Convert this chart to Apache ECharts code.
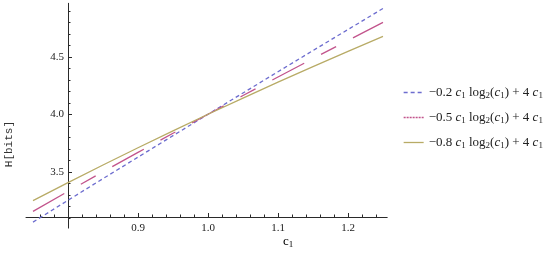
<!DOCTYPE html>
<html><head><meta charset="utf-8">
<script src="https://cdn.jsdelivr.net/npm/echarts@6/dist/echarts.min.js"></script>
<style>html,body{margin:0;padding:0;background:#fff}#c{width:550px;height:253px}</style>
</head><body><div id="c"></div>
<script>
// ---- data ----
const cValues = [0.75, 0.80, 0.85, 0.90, 0.95, 1.00, 1.05, 1.10, 1.15, 1.20, 1.25];
const coefLabels = ['\u22120.2', '\u22120.5', '\u22120.8'];
const hCoef02 = [3.062, 3.252, 3.440, 3.627, 3.814, 4.000, 4.185, 4.370, 4.554, 4.737, 4.920];
const hCoef05 = [3.156, 3.329, 3.500, 3.668, 3.835, 4.000, 4.163, 4.324, 4.484, 4.642, 4.799];
const hCoef08 = [3.249, 3.406, 3.559, 3.709, 3.856, 4.000, 4.141, 4.279, 4.415, 4.547, 4.678];
const xMajorTicks = [0.9, 1.0, 1.1, 1.2];
const xMinorTicks = [0.76, 0.78, 0.82, 0.84, 0.86, 0.88, 0.92, 0.94, 0.96, 0.98, 1.02, 1.04, 1.06, 1.08, 1.12, 1.14, 1.16, 1.18, 1.22, 1.24];
const yMajorTicks = [3.5, 4.0, 4.5];
const yMinorTicks = [3.1, 3.2, 3.3, 3.4, 3.6, 3.7, 3.8, 3.9, 4.1, 4.2, 4.3, 4.4, 4.6, 4.7, 4.8, 4.9];
const yAxisTitle = 'H[bits]';

// ---- layout ----
const X_MIN = 0.74, X_MAX = 1.256, Y_MIN = 3.01, Y_MAX = 4.965;
const PLOT_LEFT = 26, PLOT_W = 361.2, PLOT_TOP = 3.3, PLOT_H = 224.8;
const X_AXIS_Y = 217, Y_AXIS_X = 68;
const AX = '#2a2a2a';
const SERIF = 'Liberation Serif';

const colors = ['#6d6dcf', '#c2548c', '#b8ab66'];
const dashes = [[4, 3], [36, 19, 17, 19], 'solid'];
const dataSets = [hCoef02, hCoef05, hCoef08];
const names = coefLabels.map(k => k + ' c1 log2(c1) + 4 c1');

const richStyles = {
  n: {fontFamily: SERIF, fontSize: 13, color: '#222', lineHeight: 16},
  i: {fontFamily: SERIF, fontSize: 13, fontStyle: 'italic', color: '#222', lineHeight: 16},
  s: {fontFamily: SERIF, fontSize: 9, color: '#222', lineHeight: 16, verticalAlign: 'bottom'}
};

const chart = echarts.init(document.getElementById('c'), null, {renderer: 'canvas'});
chart.setOption({
  animation: false,
  backgroundColor: '#fff',
  grid: [
    {left: PLOT_LEFT, top: PLOT_TOP, width: PLOT_W, height: PLOT_H},
    {left: PLOT_LEFT, top: PLOT_TOP, width: PLOT_W, height: X_AXIS_Y - PLOT_TOP},
    {left: Y_AXIS_X, top: PLOT_TOP, width: 100, height: PLOT_H}
  ],
  xAxis: [
    {gridIndex: 0, type: 'value', min: X_MIN, max: X_MAX, show: false},
    {gridIndex: 1, type: 'value', min: X_MIN, max: X_MAX, position: 'bottom',
      axisLine: {onZero: false, lineStyle: {color: AX, width: 1}},
      axisTick: {inside: true, length: 4, lineStyle: {color: AX}, customValues: xMajorTicks},
      axisLabel: {customValues: xMajorTicks, formatter: v => v.toFixed(1), margin: 6,
        fontFamily: SERIF, fontSize: 11, color: '#222'},
      splitLine: {show: false}},
    {gridIndex: 1, type: 'value', min: X_MIN, max: X_MAX, position: 'bottom',
      axisLine: {show: false},
      axisTick: {inside: true, length: 2.5, lineStyle: {color: AX}, customValues: xMinorTicks},
      axisLabel: {show: false}, splitLine: {show: false}},
    {gridIndex: 2, type: 'value', min: 0, max: 1, show: false}
  ],
  yAxis: [
    {gridIndex: 0, type: 'value', min: Y_MIN, max: Y_MAX, show: false},
    {gridIndex: 1, type: 'value', min: 0, max: 1, show: false},
    {gridIndex: 2, type: 'value', min: Y_MIN, max: Y_MAX, position: 'left',
      axisLine: {show: true, onZero: false, lineStyle: {color: AX, width: 1}},
      axisTick: {show: true, inside: true, length: 4, lineStyle: {color: AX}, customValues: yMajorTicks},
      axisLabel: {customValues: yMajorTicks, formatter: v => v.toFixed(1), margin: 4,
        fontFamily: SERIF, fontSize: 11, color: '#222'},
      splitLine: {show: false}},
    {gridIndex: 2, type: 'value', min: Y_MIN, max: Y_MAX, position: 'left',
      axisLine: {show: false},
      axisTick: {show: true, inside: true, length: 2.5, lineStyle: {color: AX}, customValues: yMinorTicks},
      axisLabel: {show: false}, splitLine: {show: false}}
  ],
  legend: {
    orient: 'vertical', left: 403, top: 86, padding: 0, itemWidth: 20, itemHeight: 14, itemGap: 10.5,
    itemStyle: {opacity: 0},
    data: names.map((n, i) => ({name: n, lineStyle: i === 1 ? {type: [2, 1], width: 1.3} : {width: 1.3}})),
    formatter: name => {
      const k = name.split(' ')[0];
      return '{n|' + k + ' }{i|c}{s|1}{n| log}{s|2}{n|(}{i|c}{s|1}{n|) + 4 }{i|c}{s|1}';
    },
    textStyle: {rich: richStyles}
  },
  graphic: [
    {type: 'text', left: 4, top: 121, rotation: Math.PI / 2, originX: 0, originY: 0,
      style: {text: yAxisTitle, fontFamily: 'Liberation Mono', fontSize: 11, fill: '#333',
        align: 'center', verticalAlign: 'middle', x: 0, y: 0}},
    {type: 'text', left: 283, top: 235,
      style: {text: '{n|c}{s|1}', rich: richStyles}}
  ],
  series: dataSets.map((arr, i) => ({
    name: names[i], type: 'line', xAxisIndex: 0, yAxisIndex: 0,
    data: cValues.map((c, j) => [c, arr[j]]),
    showSymbol: false, symbol: 'none', smooth: false, z: 3,
    lineStyle: {color: colors[i], width: 1.3, type: dashes[i]},
    itemStyle: {color: colors[i]}
  }))
});
</script></body></html>
